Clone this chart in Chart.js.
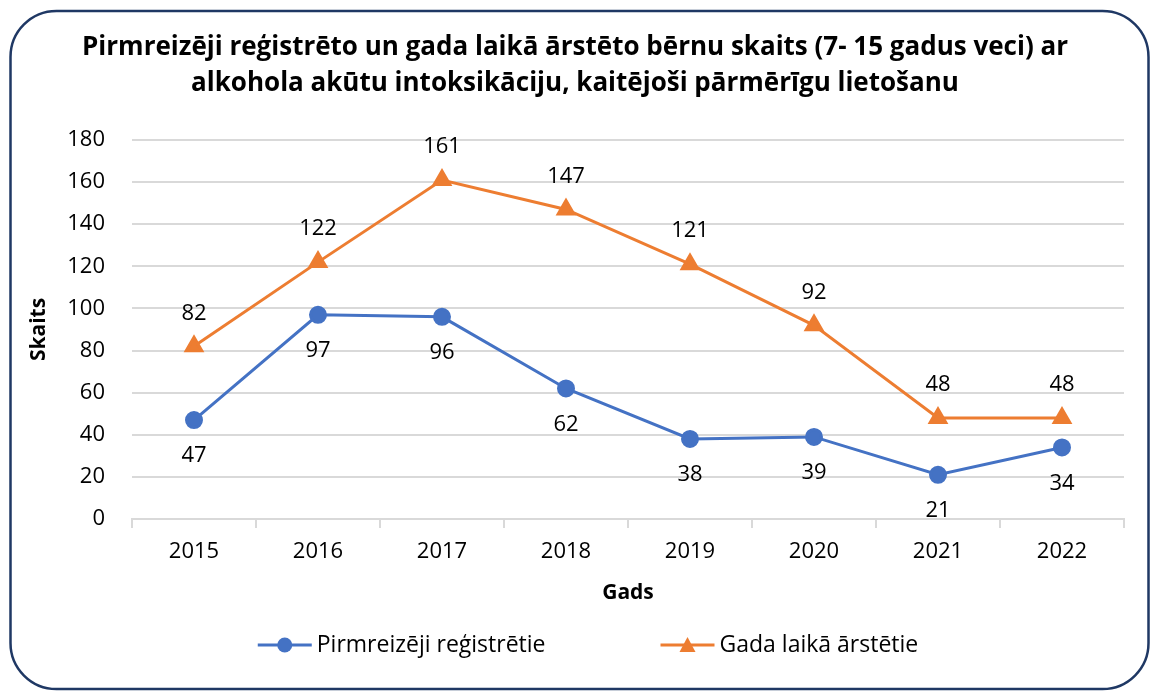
<!DOCTYPE html>
<html lang="lv">
<head>
<meta charset="utf-8">
<title>Bērnu skaits ar alkohola akūtu intoksikāciju</title>
<script src="https://cdn.jsdelivr.net/npm/chart.js@4.4.1/dist/chart.umd.min.js"></script>
<style>
  html, body { margin: 0; padding: 0; background: #fff; }
  #wrap { position: relative; width: 1152px; height: 692px; }
</style>
</head>
<body>
<div id="wrap"><canvas id="chart" width="1152" height="692"></canvas></div>
<script>
// Gadi un abu rindu vērtības
const years = ['2015', '2016', '2017', '2018', '2019', '2020', '2021', '2022'];
const firstRegistered = [47, 97, 96, 62, 38, 39, 21, 34];
const treatedInYear = [82, 122, 161, 147, 121, 92, 48, 48];
const yTicks = [0, 20, 40, 60, 80, 100, 120, 140, 160, 180];

const BLUE = '#4472C4';
const ORANGE = '#ED7D31';
const FONT = '"Open Sans", "Noto Sans", sans-serif';

// noapaļots rāmis ap visu diagrammu
const frame = {
  id: 'frame',
  beforeDraw(chart) {
    const ctx = chart.ctx;
    ctx.save();
    ctx.fillStyle = '#fff';
    ctx.fillRect(0, 0, chart.width, chart.height);
    ctx.strokeStyle = '#1F3864';
    ctx.lineWidth = 2.5;
    ctx.beginPath();
    ctx.roundRect(10.5, 11, 1138, 678, 46);
    ctx.stroke();
    ctx.restore();
  }
};

// vērtību uzraksti pie punktiem
const valueLabels = {
  id: 'valueLabels',
  afterDatasetsDraw(chart) {
    const ctx = chart.ctx;
    ctx.save();
    ctx.font = '22px ' + FONT;
    ctx.fillStyle = '#000';
    ctx.textAlign = 'center';
    ctx.textBaseline = 'middle';
    chart.data.datasets.forEach((ds, i) => {
      const meta = chart.getDatasetMeta(i);
      meta.data.forEach((pt, j) => {
        ctx.fillText(String(ds.data[j]), pt.x, pt.y + ds.labelShift);
      });
    });
    ctx.restore();
  }
};

// leģenda apakšā: līnija ar marķieri un nosaukums
const lineLegend = {
  id: 'lineLegend',
  afterDraw(chart) {
    const ctx = chart.ctx;
    const iconW = 54, gap = 5, itemGap = 115, y = 645;
    ctx.save();
    ctx.font = '23px ' + FONT;
    const items = chart.data.datasets.map(ds => ({ ds, w: ctx.measureText(ds.label).width }));
    const total = items.reduce((s, it) => s + iconW + gap + it.w, 0) + itemGap * (items.length - 1);
    let x = 588 - total / 2;
    items.forEach(({ ds, w }) => {
      ctx.strokeStyle = ds.borderColor;
      ctx.lineWidth = 3;
      ctx.beginPath(); ctx.moveTo(x, y); ctx.lineTo(x + iconW, y); ctx.stroke();
      ctx.fillStyle = ds.borderColor;
      ctx.beginPath();
      const cx = x + iconW / 2;
      if (ds.pointStyle === 'circle') {
        ctx.arc(cx, y, 7.5, 0, Math.PI * 2);
      } else {
        ctx.moveTo(cx, y - 8); ctx.lineTo(cx + 8, y + 7); ctx.lineTo(cx - 8, y + 7); ctx.closePath();
      }
      ctx.fill();
      ctx.fillStyle = '#000';
      ctx.textAlign = 'left';
      ctx.textBaseline = 'middle';
      ctx.fillText(ds.label, x + iconW + gap, y);
      x += iconW + gap + w + itemGap;
    });
    ctx.restore();
  }
};

new Chart(document.getElementById('chart'), {
  type: 'line',
  data: {
    labels: years,
    datasets: [
      {
        label: 'Pirmreizēji reģistrētie',
        data: firstRegistered,
        borderColor: BLUE,
        backgroundColor: BLUE,
        borderWidth: 3,
        pointStyle: 'circle',
        pointRadius: 7.5,
        pointHoverRadius: 7.5,
        labelShift: 36
      },
      {
        label: 'Gada laikā ārstētie',
        data: treatedInYear,
        borderColor: ORANGE,
        backgroundColor: ORANGE,
        borderWidth: 3,
        pointStyle: 'triangle',
        pointRadius: 9,
        pointHoverRadius: 9,
        labelShift: -33
      }
    ]
  },
  options: {
    responsive: false,
    animation: false,
    layout: { padding: { top: 12, left: 26, right: 28, bottom: 69 } },
    plugins: {
      title: {
        display: true,
        text: [
          'Pirmreizēji reģistrēto un gada laikā ārstēto bērnu skaits (7- 15 gadus veci) ar',
          'alkohola akūtu intoksikāciju, kaitējoši pārmērīgu lietošanu'
        ],
        color: '#000',
        font: { family: FONT, size: 26, weight: 'bold', lineHeight: '36px' },
        padding: { top: 18, bottom: 38 }
      },
      legend: { display: false },
      tooltip: { enabled: false }
    },
    scales: {
      x: {
        offset: true,
        grid: {
          display: true,
          offset: true,
          drawOnChartArea: false,
          drawTicks: true,
          tickLength: 9,
          color: '#D9D9D9',
          lineWidth: 2
        },
        border: { display: true, color: '#D9D9D9', width: 2 },
        ticks: { color: '#000', font: { family: FONT, size: 22 }, padding: 11 },
        title: {
          display: true,
          text: 'Gads',
          color: '#000',
          font: { family: FONT, size: 21, weight: 'bold' },
          padding: { top: 8, bottom: 17 }
        },
        afterFit(scale) { scale.height = 104; }
      },
      y: {
        min: 0,
        max: 180,
        afterBuildTicks(scale) {
          scale.ticks = yTicks.map(v => ({ value: v }));
        },
        grid: { color: '#D9D9D9', lineWidth: 2, drawTicks: false },
        border: { display: false },
        ticks: { color: '#000', font: { family: FONT, size: 22 }, padding: 27 },
        title: {
          display: true,
          text: 'Skaits',
          color: '#000',
          font: { family: FONT, size: 21, weight: 'bold' },
          padding: { top: 0, bottom: 8 }
        },
        afterFit(scale) { scale.width = 106; }
      }
    }
  },
  plugins: [frame, valueLabels, lineLegend]
});
</script>
</body>
</html>
